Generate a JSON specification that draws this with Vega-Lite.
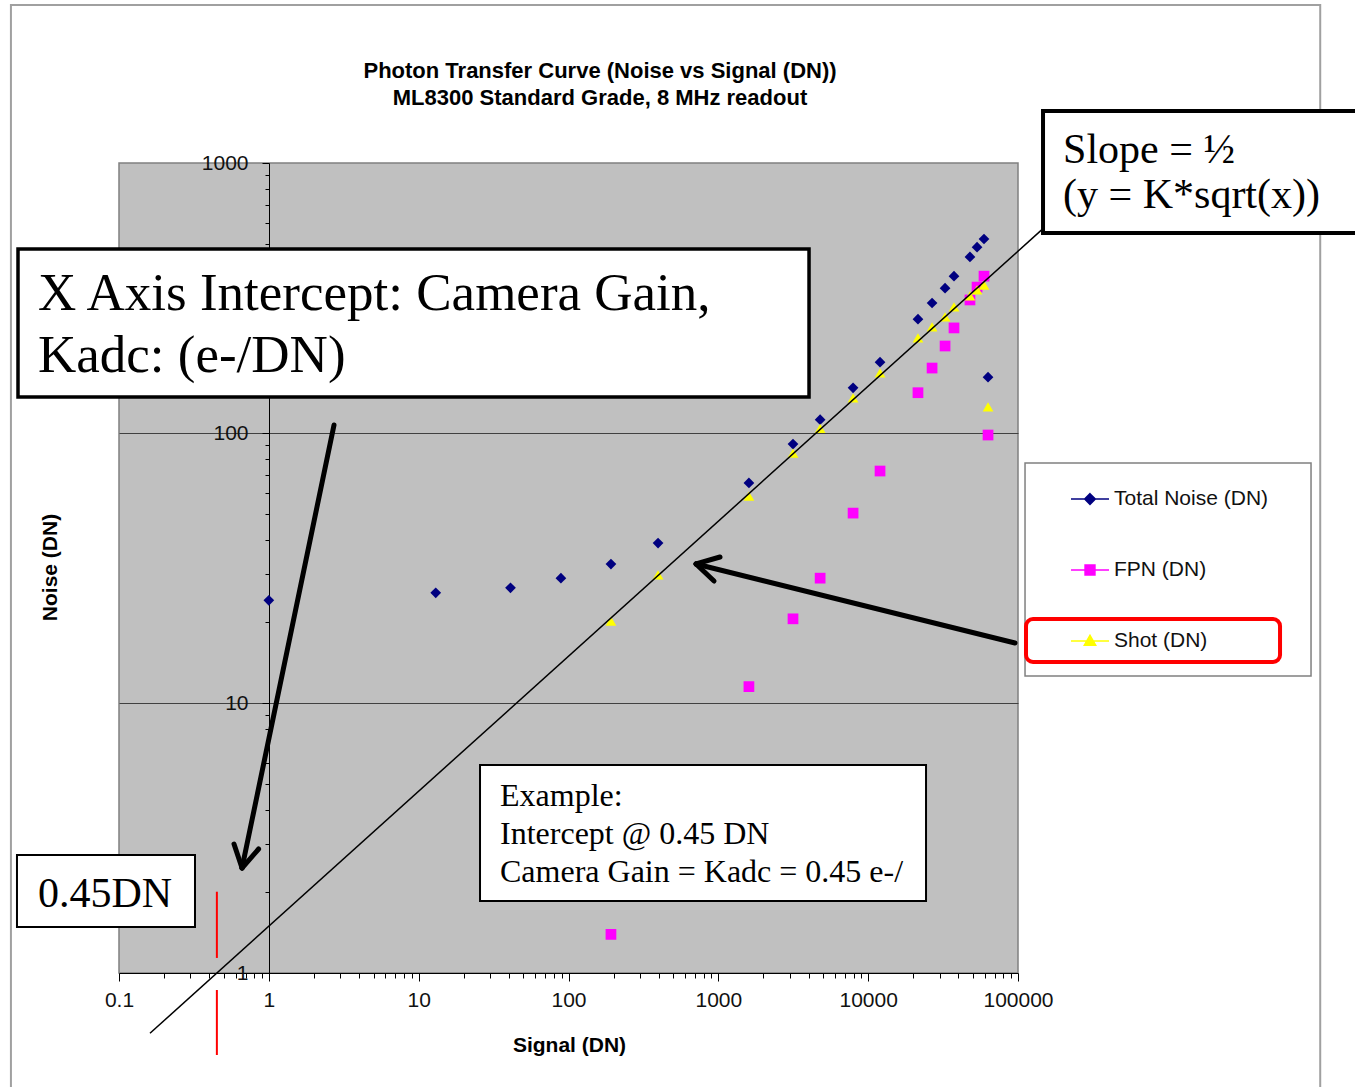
{
  "$schema": "https://vega.github.io/schema/vega-lite/v6.json",
  "width": 899,
  "height": 810,
  "autosize": {"type": "none"},
  "padding": {"left": 119, "top": 163, "right": 337, "bottom": 114},
  "background": "white",
  "view": {"fill": "#c0c0c0", "stroke": "#808080", "strokeWidth": 1.5},
  "config": {
    "view": {"fill": "#c0c0c0", "stroke": "#808080", "strokeWidth": 1.5},
    "font": "Liberation Sans"
  },
  "data": {"values": [{}]},
  "datasets": {
    "ptc": [
      {"series": "Total Noise (DN)", "signal": 1, "noise": 24},
      {"series": "Total Noise (DN)", "signal": 13, "noise": 25.6},
      {"series": "Total Noise (DN)", "signal": 41, "noise": 26.7},
      {"series": "Total Noise (DN)", "signal": 89, "noise": 29},
      {"series": "Total Noise (DN)", "signal": 192, "noise": 32.7},
      {"series": "Total Noise (DN)", "signal": 396, "noise": 39.1},
      {"series": "Total Noise (DN)", "signal": 1600, "noise": 65.3},
      {"series": "Total Noise (DN)", "signal": 3150, "noise": 91},
      {"series": "Total Noise (DN)", "signal": 4780, "noise": 112},
      {"series": "Total Noise (DN)", "signal": 7930, "noise": 147},
      {"series": "Total Noise (DN)", "signal": 12000, "noise": 183},
      {"series": "Total Noise (DN)", "signal": 21500, "noise": 264},
      {"series": "Total Noise (DN)", "signal": 26700, "noise": 303},
      {"series": "Total Noise (DN)", "signal": 32600, "noise": 344},
      {"series": "Total Noise (DN)", "signal": 37400, "noise": 381},
      {"series": "Total Noise (DN)", "signal": 47800, "noise": 449},
      {"series": "Total Noise (DN)", "signal": 53300, "noise": 488},
      {"series": "Total Noise (DN)", "signal": 59300, "noise": 523},
      {"series": "Total Noise (DN)", "signal": 63100, "noise": 161},
      {"series": "FPN (DN)", "signal": 192, "noise": 1.39},
      {"series": "FPN (DN)", "signal": 1600, "noise": 11.5},
      {"series": "FPN (DN)", "signal": 3150, "noise": 20.5},
      {"series": "FPN (DN)", "signal": 4780, "noise": 29},
      {"series": "FPN (DN)", "signal": 7930, "noise": 50.5},
      {"series": "FPN (DN)", "signal": 12000, "noise": 72.3},
      {"series": "FPN (DN)", "signal": 21500, "noise": 141},
      {"series": "FPN (DN)", "signal": 26700, "noise": 174},
      {"series": "FPN (DN)", "signal": 32600, "noise": 210},
      {"series": "FPN (DN)", "signal": 37400, "noise": 245},
      {"series": "FPN (DN)", "signal": 47800, "noise": 311},
      {"series": "FPN (DN)", "signal": 53300, "noise": 347},
      {"series": "FPN (DN)", "signal": 59300, "noise": 381},
      {"series": "FPN (DN)", "signal": 63100, "noise": 98.3},
      {"series": "Shot (DN)", "signal": 192, "noise": 20.1},
      {"series": "Shot (DN)", "signal": 396, "noise": 29.8},
      {"series": "Shot (DN)", "signal": 1600, "noise": 58.4},
      {"series": "Shot (DN)", "signal": 3150, "noise": 84.3},
      {"series": "Shot (DN)", "signal": 4780, "noise": 104},
      {"series": "Shot (DN)", "signal": 7930, "noise": 135},
      {"series": "Shot (DN)", "signal": 12000, "noise": 167},
      {"series": "Shot (DN)", "signal": 21500, "noise": 225},
      {"series": "Shot (DN)", "signal": 26700, "noise": 247},
      {"series": "Shot (DN)", "signal": 32600, "noise": 269},
      {"series": "Shot (DN)", "signal": 37400, "noise": 293},
      {"series": "Shot (DN)", "signal": 47800, "noise": 322},
      {"series": "Shot (DN)", "signal": 53300, "noise": 339},
      {"series": "Shot (DN)", "signal": 59300, "noise": 353},
      {"series": "Shot (DN)", "signal": 63100, "noise": 125}
    ]
  },
  "layer": [
    {
      "mark": {"type": "rect", "filled": false, "stroke": "#a0a0a0", "strokeWidth": 2},
      "encoding": {"x": {"datum": 0.019}, "x2": {"datum": 10400000}, "y": {"datum": 3847}, "y2": {"datum": 0.3}}
    },
    {
      "data": {"name": "ptc"},
      "transform": [{"filter": "datum.series == 'Total Noise (DN)'"}],
      "mark": {"type": "point", "shape": "diamond", "filled": true, "opacity": 1, "size": 115, "color": "#000080"},
      "encoding": {
        "x": {
          "field": "signal", "type": "quantitative",
          "scale": {"type": "log", "domain": [0.1, 100000], "nice": false},
          "axis": {
            "title": "Signal (DN)", "titleFont": "Liberation Sans", "titleFontSize": 21, "titleFontWeight": "bold", "titleColor": "#000",
            "titleX": 450, "titleY": 72, "titleBaseline": "middle", "titleAlign": "center",
            "values": [0.1,0.2,0.3,0.4,0.5,0.6,0.7,0.8,0.9,1,2,3,4,5,6,7,8,9,10,20,30,40,50,60,70,80,90,100,200,300,400,500,600,700,800,900,1000,2000,3000,4000,5000,6000,7000,8000,9000,10000,20000,30000,40000,50000,60000,70000,80000,90000,100000],
            "format": "~g",
            "labelExpr": "indexof([0.1,1,10,100,1000,10000,100000], datum.value) >= 0 ? datum.label : ''",
            "labelFont": "Liberation Sans", "labelFontSize": 21, "labelColor": "#111", "labelPadding": 8,
            "labelFlush": false, "labelOverlap": false, "labelBound": false,
            "tickSize": {"condition": {"test": "indexof([0.1,1,10,100,1000,10000,100000], datum.value) >= 0", "value": 8}, "value": 5},
            "tickColor": "#000", "tickWidth": 1, "domainColor": "#000", "domainWidth": 1, "grid": false, "zindex": 0
          }
        },
        "y": {
          "field": "noise", "type": "quantitative",
          "scale": {"type": "log", "domain": [1, 1000], "nice": false},
          "axis": {
            "title": "Noise (DN)", "titleFont": "Liberation Sans", "titleFontSize": 21, "titleFontWeight": "bold", "titleColor": "#000",
            "titleX": -219, "titleY": 404, "titleAngle": 270, "titleBaseline": "middle", "titleAlign": "center",
            "offset": -150,
            "values": [1,2,3,4,5,6,7,8,9,10,20,30,40,50,60,70,80,90,100,200,300,400,500,600,700,800,900,1000],
            "format": "~g",
            "labelExpr": "indexof([1,10,100,1000], datum.value) >= 0 ? datum.label : ''",
            "labelFont": "Liberation Sans", "labelFontSize": 21, "labelColor": "#111", "labelPadding": 14,
            "labelFlush": false, "labelOverlap": false, "labelBound": false, "labelBaseline": "middle",
            "tickSize": {"condition": {"test": "indexof([1,10,100,1000], datum.value) >= 0", "value": 7}, "value": 4},
            "tickColor": "#000", "tickWidth": 1, "domainColor": "#000", "domainWidth": 1,
            "grid": true, "gridColor": "#404040", "gridWidth": 1,
            "gridOpacity": {"condition": {"test": "datum.value == 10 || datum.value == 100", "value": 1}, "value": 0},
            "zindex": 0
          }
        }
      }
    },
    {
      "data": {"name": "ptc"},
      "transform": [{"filter": "datum.series == 'FPN (DN)'"}],
      "mark": {"type": "point", "shape": "square", "filled": true, "opacity": 1, "size": 115, "color": "#ff00ff"},
      "encoding": {"x": {"field": "signal", "type": "quantitative"}, "y": {"field": "noise", "type": "quantitative"}}
    },
    {
      "data": {"name": "ptc"},
      "transform": [{"filter": "datum.series == 'Shot (DN)'"}],
      "mark": {"type": "point", "shape": "triangle-up", "filled": true, "opacity": 1, "size": 115, "color": "#ffff00"},
      "encoding": {"x": {"field": "signal", "type": "quantitative"}, "y": {"field": "noise", "type": "quantitative"}}
    },
    {
      "mark": {"type": "rule", "color": "#000", "strokeWidth": 1.5},
      "encoding": {"x": {"datum": 0.161}, "y": {"datum": 0.598}, "x2": {"datum": 145000}, "y2": {"datum": 567.6}}
    },
    {
      "mark": {"type": "rule", "color": "#ff0000", "strokeWidth": 2},
      "encoding": {"x": {"datum": 0.45}, "y": {"datum": 2.0}, "y2": {"datum": 1.137}}
    },
    {
      "mark": {"type": "rule", "color": "#ff0000", "strokeWidth": 2},
      "encoding": {"x": {"datum": 0.45}, "y": {"datum": 0.865}, "y2": {"datum": 0.497}}
    },
    {
      "mark": {"type": "rect", "fill": "white", "stroke": "#808080", "strokeWidth": 1.5},
      "encoding": {"x": {"datum": 111400}, "x2": {"datum": 9030000}, "y": {"datum": 77.43}, "y2": {"datum": 12.59}}
    },
    {
      "data": {"name": "ptc"},
      "transform": [{"filter": "false"}],
      "mark": {"type": "point", "filled": true, "opacity": 1, "strokeWidth": 1.5},
      "encoding": {
        "fill": {"field": "series", "type": "nominal", "scale": {"domain": ["Total Noise (DN)", "FPN (DN)", "Shot (DN)"], "range": ["#000080", "#ff00ff", "#ffff00"]},
          "legend": {"orient": "none", "legendX": 951, "legendY": 316, "title": null, "padding": 0, "symbolSize": 1444, "symbolStrokeWidth": 1.5, "labelFont": "Liberation Sans", "labelFontSize": 21, "labelColor": "#111", "labelOffset": 4, "rowPadding": 41, "labelLimit": 400}},
        "stroke": {"field": "series", "type": "nominal", "scale": {"domain": ["Total Noise (DN)", "FPN (DN)", "Shot (DN)"], "range": ["#000080", "#ff00ff", "#ffff00"]},
          "legend": {"orient": "none", "legendX": 951, "legendY": 316, "title": null, "padding": 0, "symbolSize": 1444, "symbolStrokeWidth": 1.5, "labelFont": "Liberation Sans", "labelFontSize": 21, "labelColor": "#111", "labelOffset": 4, "rowPadding": 41, "labelLimit": 400}},
        "shape": {"field": "series", "type": "nominal", "scale": {"domain": ["Total Noise (DN)", "FPN (DN)", "Shot (DN)"], "range": ["M-1,0H1M0,-0.28L0.28,0L0,0.28L-0.28,0Z", "M-1,0H1M-0.26,-0.26H0.26V0.26H-0.26Z", "M-1,0H1M0,-0.3L0.3,0.22H-0.3Z"]},
          "legend": {"orient": "none", "legendX": 951, "legendY": 316, "title": null, "padding": 0, "symbolSize": 1444, "symbolStrokeWidth": 1.5, "labelFont": "Liberation Sans", "labelFontSize": 21, "labelColor": "#111", "labelOffset": 4, "rowPadding": 41, "labelLimit": 400}}
      }
    },
    {
      "mark": {"type": "rect", "filled": false, "stroke": "#ff0000", "strokeWidth": 4, "cornerRadius": 7},
      "encoding": {"x": {"datum": 113100}, "x2": {"datum": 5608000}, "y": {"datum": 20.47}, "y2": {"datum": 14.19}}
    },
    {
      "mark": {"type": "rect", "fill": "white", "stroke": "#000", "strokeWidth": 3.5},
      "encoding": {"x": {"datum": 0.02118}, "x2": {"datum": 4030}, "y": {"datum": 480.3}, "y2": {"datum": 135.9}}
    },
    {
      "mark": {"type": "rect", "fill": "white", "stroke": "#000", "strokeWidth": 4},
      "encoding": {"x": {"datum": 146900}, "x2": {"datum": 22000000}, "y": {"datum": 1558}, "y2": {"datum": 550.6}}
    },
    {
      "mark": {"type": "rect", "fill": "white", "stroke": "#000", "strokeWidth": 2},
      "encoding": {"x": {"datum": 25.67}, "x2": {"datum": 24330}, "y": {"datum": 5.893}, "y2": {"datum": 1.848}}
    },
    {
      "mark": {"type": "rect", "fill": "white", "stroke": "#000", "strokeWidth": 2},
      "encoding": {"x": {"datum": 0.02085}, "x2": {"datum": 0.3215}, "y": {"datum": 2.735}, "y2": {"datum": 1.48}}
    },
    {
      "mark": {"type": "text", "text": ["X Axis Intercept: Camera Gain,", "Kadc: (e-/DN)"], "font": "Liberation Serif", "fontSize": 53, "lineHeight": 62, "align": "left", "baseline": "alphabetic", "color": "#000"},
      "encoding": {"x": {"datum": 0.0288}, "y": {"datum": 285.4}}
    },
    {
      "mark": {"type": "text", "text": ["Slope = ½", "(y = K*sqrt(x))"], "font": "Liberation Serif", "fontSize": 42, "lineHeight": 45, "align": "left", "baseline": "alphabetic", "color": "#000"},
      "encoding": {"x": {"datum": 199800}, "y": {"datum": 1000}}
    },
    {
      "mark": {"type": "text", "text": ["Example:", "Intercept  @ 0.45 DN", "Camera Gain = Kadc = 0.45 e-/"], "font": "Liberation Serif", "fontSize": 32, "lineHeight": 38, "align": "left", "baseline": "alphabetic", "color": "#000"},
      "encoding": {"x": {"datum": 34.91}, "y": {"datum": 4.154}}
    },
    {
      "mark": {"type": "text", "text": "0.45DN", "font": "Liberation Serif", "fontSize": 42, "align": "center", "baseline": "alphabetic", "color": "#000"},
      "encoding": {"x": {"datum": 0.08065}, "y": {"datum": 1.756}}
    },
    {
      "mark": {"type": "text", "text": ["Photon Transfer Curve (Noise vs Signal (DN))", "ML8300 Standard Grade, 8 MHz readout"], "font": "Liberation Sans", "fontWeight": "bold", "fontSize": 22, "lineHeight": 27, "align": "center", "baseline": "alphabetic", "color": "#000"},
      "encoding": {"x": {"datum": 162.3}, "y": {"datum": 2073}}
    },
    {
      "mark": {"type": "rule", "color": "#000", "strokeWidth": 5, "strokeCap": "round"},
      "encoding": {"x": {"datum": 2.723}, "y": {"datum": 107.1}, "x2": {"datum": 0.6623}, "y2": {"datum": 2.448}}
    },
    {
      "mark": {"type": "rule", "color": "#000", "strokeWidth": 5, "strokeCap": "round"},
      "encoding": {"x": {"datum": 0.6623}, "y": {"datum": 2.448}, "x2": {"datum": 0.5855}, "y2": {"datum": 3.004}}
    },
    {
      "mark": {"type": "rule", "color": "#000", "strokeWidth": 5, "strokeCap": "round"},
      "encoding": {"x": {"datum": 0.6623}, "y": {"datum": 2.448}, "x2": {"datum": 0.8545}, "y2": {"datum": 2.879}}
    },
    {
      "mark": {"type": "rule", "color": "#000", "strokeWidth": 5, "strokeCap": "round"},
      "encoding": {"x": {"datum": 95500}, "y": {"datum": 16.68}, "x2": {"datum": 709.8}, "y2": {"datum": 32.73}}
    },
    {
      "mark": {"type": "rule", "color": "#000", "strokeWidth": 5, "strokeCap": "round"},
      "encoding": {"x": {"datum": 709.8}, "y": {"datum": 32.73}, "x2": {"datum": 936}, "y2": {"datum": 28.31}}
    },
    {
      "mark": {"type": "rule", "color": "#000", "strokeWidth": 5, "strokeCap": "round"},
      "encoding": {"x": {"datum": 709.8}, "y": {"datum": 32.73}, "x2": {"datum": 1026}, "y2": {"datum": 34.74}}
    }
  ]
}
